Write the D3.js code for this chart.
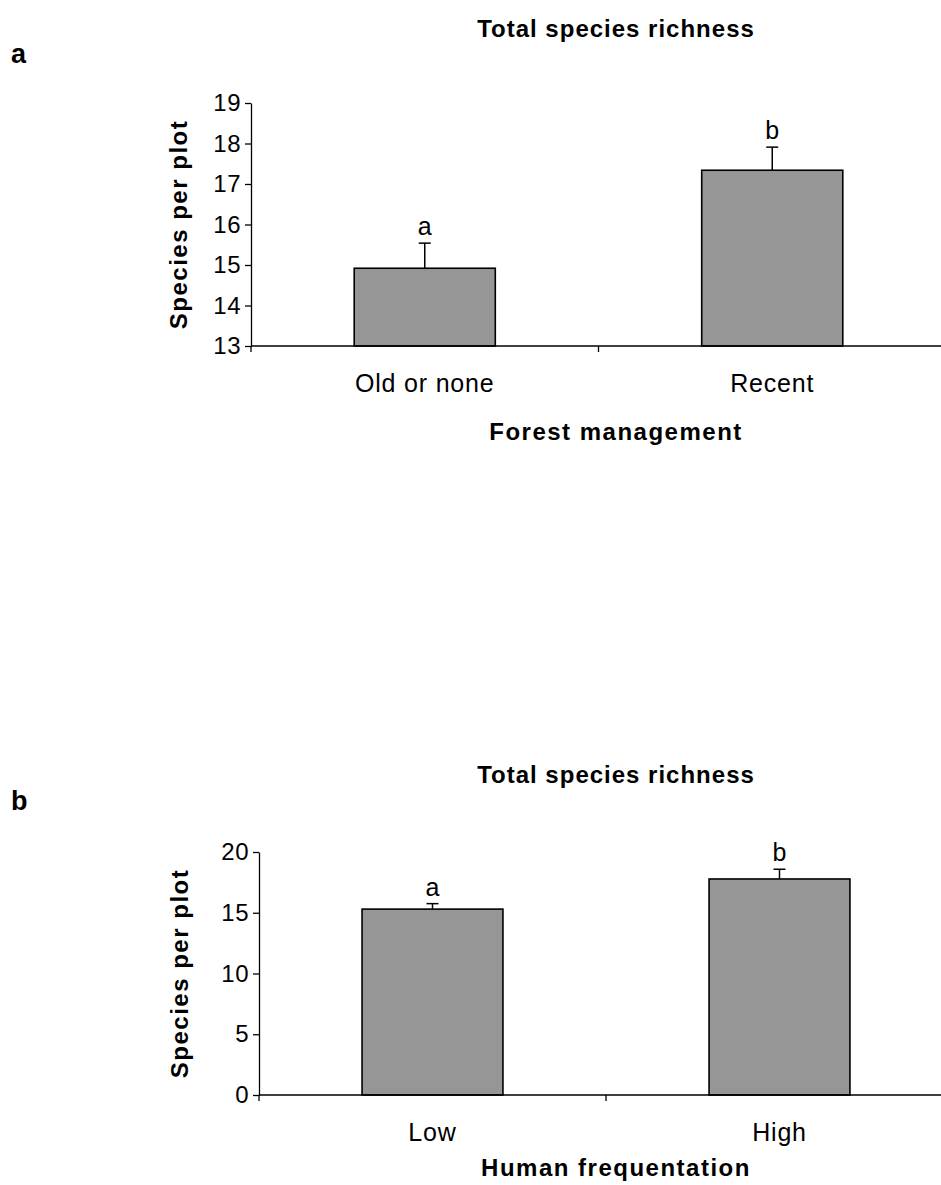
<!DOCTYPE html>
<html>
<head>
<meta charset="utf-8">
<script src="https://cdn.jsdelivr.net/npm/d3@7"></script>
<style>
  html, body { margin: 0; padding: 0; background: #fff; }
  svg { display: block; font-family: "Liberation Sans", Arial, sans-serif; }
</style>
</head>
<body>
<svg id="fig" width="941" height="1185"></svg>
<script>
// Panel a: species richness by forest management
const mgmtCategories = ["Old or none", "Recent"];
const mgmtMeans = [14.92, 17.34];
const mgmtErrors = [0.62, 0.57];
const mgmtLetters = ["a", "b"];
const mgmtTicks = [13, 14, 15, 16, 17, 18, 19];

// Panel b: species richness by human frequentation
const freqCategories = ["Low", "High"];
const freqMeans = [15.3, 17.78];
const freqErrors = [0.45, 0.8];
const freqLetters = ["a", "b"];
const freqTicks = [0, 5, 10, 15, 20];

const svg = d3.select("#fig");

function drawPanel(cfg) {
  const g = svg.append("g");

  const x = d3.scaleBand()
    .domain(cfg.categories)
    .range([cfg.left, cfg.right])
    .paddingInner(0.594)
    .paddingOuter(0.297);

  const y = d3.scaleLinear()
    .domain([cfg.ticks[0], cfg.ticks[cfg.ticks.length - 1]])
    .range([cfg.bottom, cfg.top]);

  // Panel letter and title
  g.append("text")
    .attr("x", 11).attr("y", cfg.labelY)
    .attr("font-size", 27).attr("font-weight", "bold")
    .text(cfg.panel);

  g.append("text")
    .attr("x", 616).attr("y", cfg.titleY)
    .attr("text-anchor", "middle")
    .attr("font-size", 24).attr("font-weight", "bold")
    .attr("letter-spacing", 1)
    .text("Total species richness");

  // Bars
  const rows = cfg.categories.map((c, i) => ({
    cat: c, mean: cfg.means[i], err: cfg.errors[i], letter: cfg.letters[i]
  }));

  g.selectAll("rect.bar").data(rows).join("rect")
    .attr("class", "bar")
    .attr("x", d => x(d.cat))
    .attr("width", x.bandwidth())
    .attr("y", d => y(d.mean))
    .attr("height", d => y(cfg.ticks[0]) - y(d.mean))
    .attr("fill", "#969696")
    .attr("stroke", "#000")
    .attr("stroke-width", 1.6);

  // Upper error bars with caps
  const cx = d => x(d.cat) + x.bandwidth() / 2;
  g.selectAll("line.err").data(rows).join("line")
    .attr("class", "err")
    .attr("x1", cx).attr("x2", cx)
    .attr("y1", d => y(d.mean)).attr("y2", d => y(d.mean + d.err))
    .attr("stroke", "#000").attr("stroke-width", 1.5);
  g.selectAll("line.cap").data(rows).join("line")
    .attr("class", "cap")
    .attr("x1", d => cx(d) - 6).attr("x2", d => cx(d) + 6)
    .attr("y1", d => y(d.mean + d.err)).attr("y2", d => y(d.mean + d.err))
    .attr("stroke", "#000").attr("stroke-width", 1.5);

  // Significance letters
  g.selectAll("text.sig").data(rows).join("text")
    .attr("class", "sig")
    .attr("x", cx)
    .attr("y", d => y(d.mean + d.err) - 8)
    .attr("text-anchor", "middle")
    .attr("font-size", 25)
    .text(d => d.letter);

  // Y axis
  const yAxis = g.append("g")
    .attr("transform", `translate(${cfg.left},0)`)
    .call(d3.axisLeft(y).tickValues(cfg.ticks).tickFormat(d3.format("d"))
      .tickSize(6).tickPadding(4).tickSizeOuter(0));
  yAxis.select(".domain").attr("stroke-width", 1.3);
  yAxis.selectAll(".tick line").attr("stroke-width", 1.3);
  yAxis.selectAll(".tick text")
    .attr("font-size", 24).attr("fill", "#000")
    .attr("font-family", "Liberation Sans, Arial, sans-serif")
    .attr("letter-spacing", 0.5);

  // X axis: line spans the full width, ticks sit at the category boundaries
  const xAxis = g.append("g").attr("transform", `translate(0,${cfg.bottom})`);
  xAxis.append("line")
    .attr("x1", cfg.left).attr("x2", cfg.right)
    .attr("stroke", "#000").attr("stroke-width", 1.3);
  const bounds = [cfg.left, ...cfg.categories.slice(1).map(c => x(c) - x.step() * x.paddingInner() / 2), cfg.right];
  xAxis.selectAll("line.xt").data(bounds).join("line")
    .attr("class", "xt")
    .attr("x1", d => d).attr("x2", d => d)
    .attr("y1", 0).attr("y2", 6)
    .attr("stroke", "#000").attr("stroke-width", 1.3);
  xAxis.selectAll("text.cat").data(cfg.categories).join("text")
    .attr("class", "cat")
    .attr("x", d => x(d) + x.bandwidth() / 2)
    .attr("y", cfg.catDy)
    .attr("text-anchor", "middle")
    .attr("font-size", 25)
    .attr("letter-spacing", 0.8)
    .text(d => d);

  // Axis titles
  g.append("text")
    .attr("x", 616).attr("y", cfg.xTitleY)
    .attr("text-anchor", "middle")
    .attr("font-size", 24).attr("font-weight", "bold")
    .attr("letter-spacing", 1.5)
    .text(cfg.xTitle);

  g.append("text")
    .attr("transform", `translate(${cfg.yTitleX},${(cfg.top + cfg.bottom) / 2}) rotate(-90)`)
    .attr("text-anchor", "middle")
    .attr("font-size", 24).attr("font-weight", "bold")
    .attr("letter-spacing", 1.5)
    .text("Species per plot");
}

drawPanel({
  panel: "a", labelY: 63, titleY: 37,
  categories: mgmtCategories, means: mgmtMeans, errors: mgmtErrors,
  letters: mgmtLetters, ticks: mgmtTicks,
  left: 251, right: 946, top: 103, bottom: 346,
  catDy: 46, xTitle: "Forest management", xTitleY: 440, yTitleX: 187
});

drawPanel({
  panel: "b", labelY: 810, titleY: 783,
  categories: freqCategories, means: freqMeans, errors: freqErrors,
  letters: freqLetters, ticks: freqTicks,
  left: 259, right: 953, top: 852, bottom: 1095,
  catDy: 46, xTitle: "Human frequentation", xTitleY: 1176, yTitleX: 188
});
</script>
</body>
</html>
